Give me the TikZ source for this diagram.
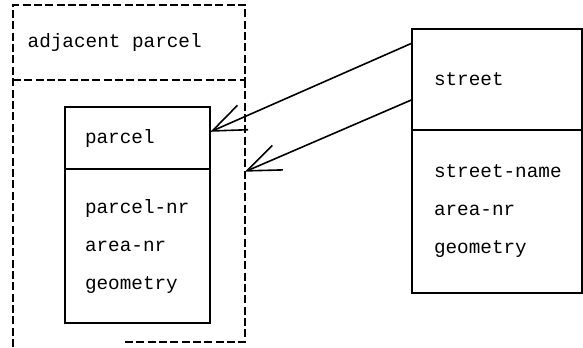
\documentclass[tikz,border=0pt]{standalone}
\usepackage{fontspec}
\setmonofont{Liberation Mono}
\usepackage{tikz}
\usetikzlibrary{arrows.meta,calc,positioning}
\newcommand{\boxfont}{\ttfamily\fontsize{14.5}{28.5}\selectfont}
\tikzset{
    mybox/.style={draw=black,line width=1.3pt,outer sep=0pt,inner xsep=15pt,inner ysep=0pt,
      align=left,font=\boxfont},
    myframe/.style={draw=black,line width=0.8pt,dash pattern=on 6pt off 2.5pt},
    myarrow/.style={line width=1.2pt,-{Straight Barb[length=25pt,width=20pt,line width=1.2pt]}}
}
\begin{document}
\begin{tikzpicture}[x=0.75pt,y=-0.75pt]
  \useasboundingbox (0,0) rectangle (583,347);
  % adjacent parcel frame
  \node[mybox,myframe,anchor=north west,inner xsep=11pt,text width=152pt,minimum height=56.25pt]
    (adjacent) at (13,5) {adjacent\hspace{8.7pt}parcel};
  \node[below=0pt of adjacent,outer sep=0pt,minimum width=174pt,minimum height=196.5pt] (adjbody) {};
  \draw[myframe] ($(adjbody.south west)+(0,5)$) -- (adjbody.north west);
  \draw[myframe] (adjbody.north east) -- (adjbody.south east) -- ++(-122,0);
  % parcel
  \node[mybox,anchor=north west,text width=79pt,minimum height=46.5pt] (parcel) at (65,107) {parcel};
  \node[mybox,below=0pt of parcel,text width=79pt,minimum height=115.5pt] (parcelbody)
    {parcel-nr\\area-nr\\geometry};
  % street
  \node[mybox,anchor=north west,inner xsep=16.5pt,text width=94.5pt,minimum height=75.75pt] (street) at (412,29) {street};
  \node[mybox,below=0pt of street,inner xsep=16.5pt,text width=94.5pt,minimum height=122.25pt] (streetbody)
    {street-name\\area-nr\\geometry};
  % references
  \coordinate (tipA) at ($(parcel.north east)!0.4!(parcel.south east)$);
  \coordinate (tipB) at ($(adjbody.north east)!0.35!(adjbody.south east)$);
  \draw[myarrow] ($(street.north west)!0.14!(street.south west)$) -- (tipA);
  \draw[myarrow] ($(street.north west)!0.7!(street.south west)$) -- (tipB);
\end{tikzpicture}
\end{document}
